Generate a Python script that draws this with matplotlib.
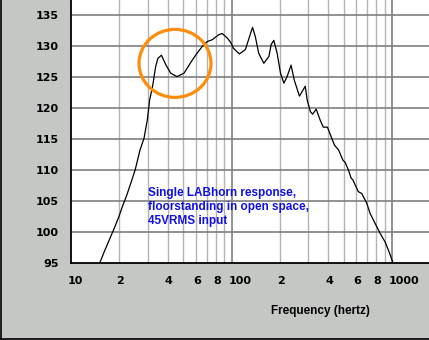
import matplotlib
matplotlib.use("Agg")
import matplotlib.pyplot as plt
from matplotlib.patches import Ellipse
from matplotlib.transforms import ScaledTranslation
from matplotlib.lines import Line2D

# Data (frequency in Hz, level in dB)
freq = [14.6, 15.1, 16.1, 17.3, 18.6, 19.9, 20.9, 22.3, 23.6, 25.1, 26.9, 28.5, 29.9, 30.9,
        32.2, 33.7, 34.8, 36.6, 38.9, 41.8, 45.7, 50.6, 56.9, 61.3, 65.7, 70.6, 75.9, 83.3,
        87.5, 93.9, 98.6, 103, 112, 122, 129.5, 135.2, 140.7, 147.8, 158.9, 171, 176.5,
        183.5, 192.5, 202, 212, 222, 235, 246, 265, 288, 296, 310, 320, 337, 356, 373,
        396, 417, 438, 465, 494, 511, 535, 556, 570, 617, 648, 697, 730, 784, 842, 905,
        949, 1009, 1030]
spl = [94.0, 95.0, 96.8, 98.7, 100.6, 102.5, 104.1, 106.0, 107.9, 110.0, 113.2, 115.1, 118.1, 121.3,
       123.4, 126.7, 128.0, 128.5, 127.0, 125.6, 125.05, 125.6, 127.7, 128.9, 129.9, 130.7, 131.0, 131.8,
       132.0, 131.3, 130.6, 129.6, 128.7, 129.4, 131.5, 133.0, 131.5, 128.8, 127.2, 128.3, 130.2,
       130.9, 128.8, 125.6, 124.0, 125.05, 126.9, 124.5, 121.9, 123.5, 121.3, 119.4, 119.0, 119.8, 118.1, 116.9,
       116.9, 115.4, 114.0, 113.2, 111.6, 111.2, 110.0, 108.7, 108.4, 106.5, 106.2, 104.6, 103.0, 101.4, 99.8, 98.4,
       97.1, 95.2, 94.0]

yticks = [95, 100, 105, 110, 115, 120, 125, 130, 135]
xtick_pos = [10, 20, 40, 60, 80, 100, 200, 400, 600, 800, 1000]
xtick_labels = ["10", "2", "4", "6", "8", "100", "2", "4", "6", "8", "1000"]
major_grid = [100, 1000]
minor_grid = [20, 30, 40, 50, 60, 70, 80, 90, 200, 300, 400, 500, 600, 700, 800, 900]
annotation = "Single LABhorn response,\nfloorstanding in open space,\n45VRMS input"
xlabel = "Frequency (hertz)"

bg = "#c4c7c4"
fig = plt.figure(figsize=(4.29, 3.40), dpi=100, facecolor=bg)
ax = fig.add_axes([71/429, 77/340, 358/429, 263/340])
ax.set_facecolor("white")
ax.set_xscale("log")
ax.set_xlim(10, 1700)
ax.set_ylim(95, 137.4)

for g in minor_grid:
    ax.axvline(g, color="#b4b4b4", lw=1.0, zorder=1)
for g in major_grid:
    ax.axvline(g, color="#7f7f7f", lw=1.2, zorder=1)
for y in yticks[1:]:
    ax.axhline(y, color="#7f7f7f", lw=1.2, zorder=1)

ax.plot(freq, spl, color="black", lw=0.9, zorder=3, solid_joinstyle="round")

for s in ["top", "right"]:
    ax.spines[s].set_visible(False)
for s in ["left", "bottom"]:
    ax.spines[s].set_color("black")
    ax.spines[s].set_linewidth(1.3)

ax.set_yticks(yticks)
ax.set_yticklabels([str(v) for v in yticks], fontfamily="DejaVu Sans", fontweight="bold", fontsize=8)
ax.set_xticks(xtick_pos)
ax.set_xticklabels(xtick_labels, fontfamily="DejaVu Sans", fontweight="bold", fontsize=8)
ax.minorticks_off()
ax.tick_params(axis="y", length=0, pad=9)
ax.tick_params(axis="x", length=0, pad=9)
off = ScaledTranslation(-3/100, 0, fig.dpi_scale_trans)
for lbl in ax.get_xticklabels():
    lbl.set_horizontalalignment("left")
    lbl.set_transform(lbl.get_transform() + off)

fig.text(320/429, 1 - 311/340, xlabel, ha="center", va="center",
         fontfamily="Liberation Sans", fontweight="bold", fontsize=8.5)

ax.text((148.5-71)/358, (263-187)/263, annotation, transform=ax.transAxes,
        ha="left", va="top", color="#1010e8", fontfamily="Liberation Sans",
        fontweight="bold", fontsize=8.5, linespacing=1.22, zorder=4)

ax.add_patch(Ellipse((0.2905, 0.759), 0.201, 0.2586, transform=ax.transAxes,
                     fill=False, ec="#ff8c0a", lw=2.3, zorder=5, clip_on=False))

fig.add_artist(Line2D([0.5/429, 0.5/429], [0, 1], transform=fig.transFigure, color="black", lw=1.2))
fig.add_artist(Line2D([0, 1], [1.5/340, 1.5/340], transform=fig.transFigure, color="black", lw=1.2))

fig.savefig("out.png", dpi=100, facecolor=bg)
